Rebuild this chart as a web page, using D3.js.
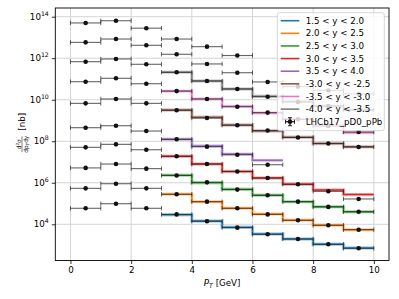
<!DOCTYPE html>
<html>
<head>
<meta charset="utf-8">
<script src="https://cdn.jsdelivr.net/npm/d3@7"></script>
<style>
  body { margin: 0; background: #fff; }
  svg text { font-family: "DejaVu Sans", sans-serif; fill: #000; }
</style>
</head>
<body>
<script>
const width = 399;
const height = 299;
const margin = {"left":55.3,"right":10,"top":8,"bottom":38.5};

// pT bins (GeV)
const binCenters = [0.5,1.5,2.5,3.5,4.5,5.5,6.5,7.5,8.5,9.5];
const theoryStart = 3;
const xTicks = [0,2,4,6,8,10];
const yTicks = [1e4,1e6,1e8,1e10,1e12,1e14];

const labels = ["1.5 < y < 2.0","2.0 < y < 2.5","2.5 < y < 3.0","3.0 < y < 3.5","3.5 < y < 4.0",
  "-3.0 < y < -2.5","-3.5 < y < -3.0","-4.0 < y < -3.5"];
const colors = ["#1f77b4","#ff7f0e","#2ca02c","#d62728","#9467bd","#8c564b","#e377c2","#7f7f7f"];
const dataLabel = "LHCb17_pD0_pPb";

// theory curves, bins from pT = 3
const thY15y20 = [2.9e4,1.44e4,7.2e3,3.4e3,1.96e3,1.09e3,7.2e2];
const thY20y25 = [2.8e5,1.23e5,5.9e4,3.1e4,1.56e4,9.0e3,5.5e3];
const thY25y30 = [2.3e6,1.0e6,4.85e5,2.5e5,1.23e5,7.0e4,4.0e4];
const thY30y35 = [1.89e7,8.0e6,3.5e6,1.7e6,8.5e5,4.5e5,2.7e5];
const thY35y40 = [1.24e8,5.9e7,2.4e7,1.2e7];
const thYm30m25 = [3.2e9,1.43e9,6.1e8,3.1e8,1.57e8,7.8e7,5.4e7];
const thYm35m30 = [2.6e10,1.09e10,4.8e9,2.3e9,1.16e9,5.7e8,2.6e8];
const thYm40m35 = [2.1e11,8.0e10,3.3e10,1.47e10,8.3e9,5.0e9,3.2e9];

// measured points, bins from pT = 0
const dataYm50m45 = [5.0e13,6.4e13,2.8e13,8.4e12,3.6e12,1.35e12];
const dataYm45m40 = [5.8e12,8.4e12,4.2e12,1.55e12,5.3e11,2.0e11,7.2e10,4.3e10,2.8e10,1.9e10];
const dataYm40m35 = [6.8e11,9.2e11,5.1e11,2.1e11,8.0e10,3.3e10,1.4e10,7.8e9,5.0e9,3.2e9];
const dataYm35m30 = [7.4e10,1.08e11,5.9e10,2.6e10,1.09e10,4.6e9,2.4e9,1.14e9,5.4e8,2.8e8];
const dataYm30m25 = [6.7e9,1.09e10,6.7e9,3.1e9,1.32e9,5.9e8,3.3e8,1.52e8,7.8e7,5.3e7];
const dataY35y40 = [4.5e8,5.6e8,3.1e8,1.24e8,5.5e7,2.25e7,7.4e6];
const dataY30y35 = [5.1e7,7.1e7,3.9e7,1.89e7,8.0e6,3.5e6,1.7e6,8.5e5,3.9e5,1.66e5];
const dataY25y30 = [5.2e6,8.0e6,4.8e6,2.25e6,1.05e6,4.7e5,2.5e5,1.23e5,6.9e4,4.0e4];
const dataY20y25 = [5.4e5,9.0e5,5.4e5,2.8e5,1.23e5,5.9e4,3.0e4,1.56e4,9.0e3,5.5e3];
const dataY15y20 = [5.9e4,9.8e4,5.9e4,3.0e4,1.4e4,6.9e3,3.3e3,1.96e3,1.09e3,7.0e2];

const theory = [thY15y20,thY20y25,thY25y30,thY30y35,thY35y40,thYm30m25,thYm35m30,thYm40m35];
const measured = [dataY15y20,dataY20y25,dataY25y30,dataY30y35,dataY35y40,dataYm30m25,dataYm35m30,dataYm40m35,dataYm45m40,dataYm50m45];

const svg = d3.select("body").append("svg").attr("width",width).attr("height",height);

const xScale = d3.scaleLinear().domain([-0.5,10.5]).range([margin.left,width-margin.right]);
const yScale = d3.scaleLog().domain([Math.pow(10,2.256),Math.pow(10,14.419)])
  .range([height-margin.bottom,margin.top]);

// grid
svg.append("g").selectAll("line").data(xTicks).enter().append("line")
  .attr("x1",d=>xScale(d)).attr("x2",d=>xScale(d))
  .attr("y1",margin.top).attr("y2",height-margin.bottom)
  .attr("stroke","#d4d4d4").attr("stroke-width",1);
svg.append("g").selectAll("line").data(yTicks).enter().append("line")
  .attr("y1",d=>yScale(d)).attr("y2",d=>yScale(d))
  .attr("x1",margin.left).attr("x2",width-margin.right)
  .attr("stroke","#d4d4d4").attr("stroke-width",1);

// theory steps (thin band + line)
const step = d3.line().x(d=>xScale(d[0])).y(d=>yScale(d[1])).curve(d3.curveStepAfter);
theory.forEach((vals,i)=>{
  const pts = vals.map((v,j)=>[theoryStart+j,v]);
  pts.push([theoryStart+vals.length,vals[vals.length-1]]);
  svg.append("path").attr("d",step(pts)).attr("fill","none")
    .attr("stroke",colors[i]).attr("stroke-opacity",0.35).attr("stroke-width",3.4);
  svg.append("path").attr("d",step(pts)).attr("fill","none")
    .attr("stroke",colors[i]).attr("stroke-width",1.5);
});

// data points with x error bars
const pts = svg.append("g");
measured.forEach(vals=>{
  vals.forEach((v,j)=>{
    const c = binCenters[j];
    const yy = yScale(v);
    pts.append("line").attr("x1",xScale(c-0.5)).attr("x2",xScale(c+0.5))
      .attr("y1",yy).attr("y2",yy).attr("stroke","#222").attr("stroke-opacity",0.7).attr("stroke-width",1.1);
    [c-0.5,c+0.5].forEach(e=>{
      pts.append("line").attr("x1",xScale(e)).attr("x2",xScale(e))
        .attr("y1",yy-2.2).attr("y2",yy+2.2).attr("stroke","#222").attr("stroke-opacity",0.7).attr("stroke-width",1);
    });
    pts.append("circle").attr("cx",xScale(c)).attr("cy",yy).attr("r",2.3).attr("fill","#111");
  });
});

// axes
const xAxis = d3.axisBottom(xScale).tickValues(xTicks).tickSize(3.5).tickPadding(2.5);
const xg = svg.append("g").attr("transform",`translate(0,${height-margin.bottom})`).call(xAxis);
xg.select(".domain").remove();
xg.selectAll("text").attr("font-size","8.7px").attr("font-family","DejaVu Sans");
xg.selectAll("line").attr("stroke","#000").attr("stroke-width",0.8);

const yAxis = d3.axisLeft(yScale).tickValues(yTicks).tickSize(3.5).tickFormat("");
const yg = svg.append("g").attr("transform",`translate(${margin.left},0)`).call(yAxis);
yg.select(".domain").remove();
yg.selectAll("line").attr("stroke","#000").attr("stroke-width",0.8);
yTicks.forEach(t=>{
  const tx = svg.append("text").attr("x",margin.left-6.5).attr("y",yScale(t)+3.2)
    .attr("text-anchor","end").attr("font-size","8.7px");
  tx.append("tspan").text("10");
  tx.append("tspan").attr("dy",-4).attr("font-size","6.2px").text(Math.round(Math.log10(t)));
});

// frame
svg.append("rect").attr("x",margin.left).attr("y",margin.top)
  .attr("width",width-margin.right-margin.left).attr("height",height-margin.bottom-margin.top)
  .attr("fill","none").attr("stroke","#000").attr("stroke-width",0.9);

// x label
const xl = svg.append("text").attr("x",(margin.left+width-margin.right)/2).attr("y",286)
  .attr("text-anchor","middle").attr("font-size","8.7px");
xl.append("tspan").attr("font-style","italic").text("P");
xl.append("tspan").attr("font-style","italic").attr("font-size","6.2px").attr("dy",1.8).text("T");
xl.append("tspan").attr("dy",-1.8).text(" [GeV]");

// y label
const yl = svg.append("g").attr("transform",`translate(22,${(margin.top+height-margin.bottom)/2}) rotate(-90)`);
yl.append("text").attr("x",-10).attr("y",-1.5).attr("text-anchor","middle").attr("font-size","5.8px")
  .html("d<tspan dy='-2' font-size='4.2px'>2</tspan><tspan dy='2'>σ</tspan>");
yl.append("line").attr("x1",-18).attr("x2",-2).attr("y1",0).attr("y2",0).attr("stroke","#000").attr("stroke-width",0.5);
yl.append("text").attr("x",-10).attr("y",5.5).attr("text-anchor","middle").attr("font-size","5.8px")
  .html("dp<tspan font-size='4.2px' dy='1' font-style='italic'>T</tspan><tspan dy='-1'>dy</tspan>");
yl.append("text").attr("x",12.5).attr("y",3).attr("text-anchor","middle").attr("font-size","8.7px").text("[nb]");

// legend
const lg = svg.append("g");
lg.append("rect").attr("x",277.3).attr("y",12.7).attr("width",107).attr("height",118)
  .attr("rx",2.5).attr("fill","#fff").attr("fill-opacity",0.8).attr("stroke","#cccccc").attr("stroke-width",0.8);
const rowY = i=>20.7+i*12.63;
labels.forEach((lab,i)=>{
  lg.append("line").attr("x1",280.7).attr("x2",299.3).attr("y1",rowY(i)).attr("y2",rowY(i))
    .attr("stroke",colors[i]).attr("stroke-width",1.6);
  lg.append("text").attr("x",305.7).attr("y",rowY(i)+3.1).attr("font-size","8.7px").text(lab);
});
const ly = rowY(8);
lg.append("line").attr("x1",285.5).attr("x2",294.5).attr("y1",ly).attr("y2",ly).attr("stroke","#222").attr("stroke-width",1.3);
lg.append("line").attr("x1",290).attr("x2",290).attr("y1",ly-4).attr("y2",ly+4).attr("stroke","#222").attr("stroke-width",1.3);
[285.5,294.5].forEach(e=>lg.append("line").attr("x1",e).attr("x2",e).attr("y1",ly-2).attr("y2",ly+2).attr("stroke","#222").attr("stroke-width",1));
[ly-4,ly+4].forEach(e=>lg.append("line").attr("x1",288).attr("x2",292).attr("y1",e).attr("y2",e).attr("stroke","#222").attr("stroke-width",1));
lg.append("circle").attr("cx",290).attr("cy",ly).attr("r",2.3).attr("fill","#111");
lg.append("text").attr("x",305.7).attr("y",ly+3.1).attr("font-size","8.7px").text(dataLabel);
</script>
</body>
</html>
